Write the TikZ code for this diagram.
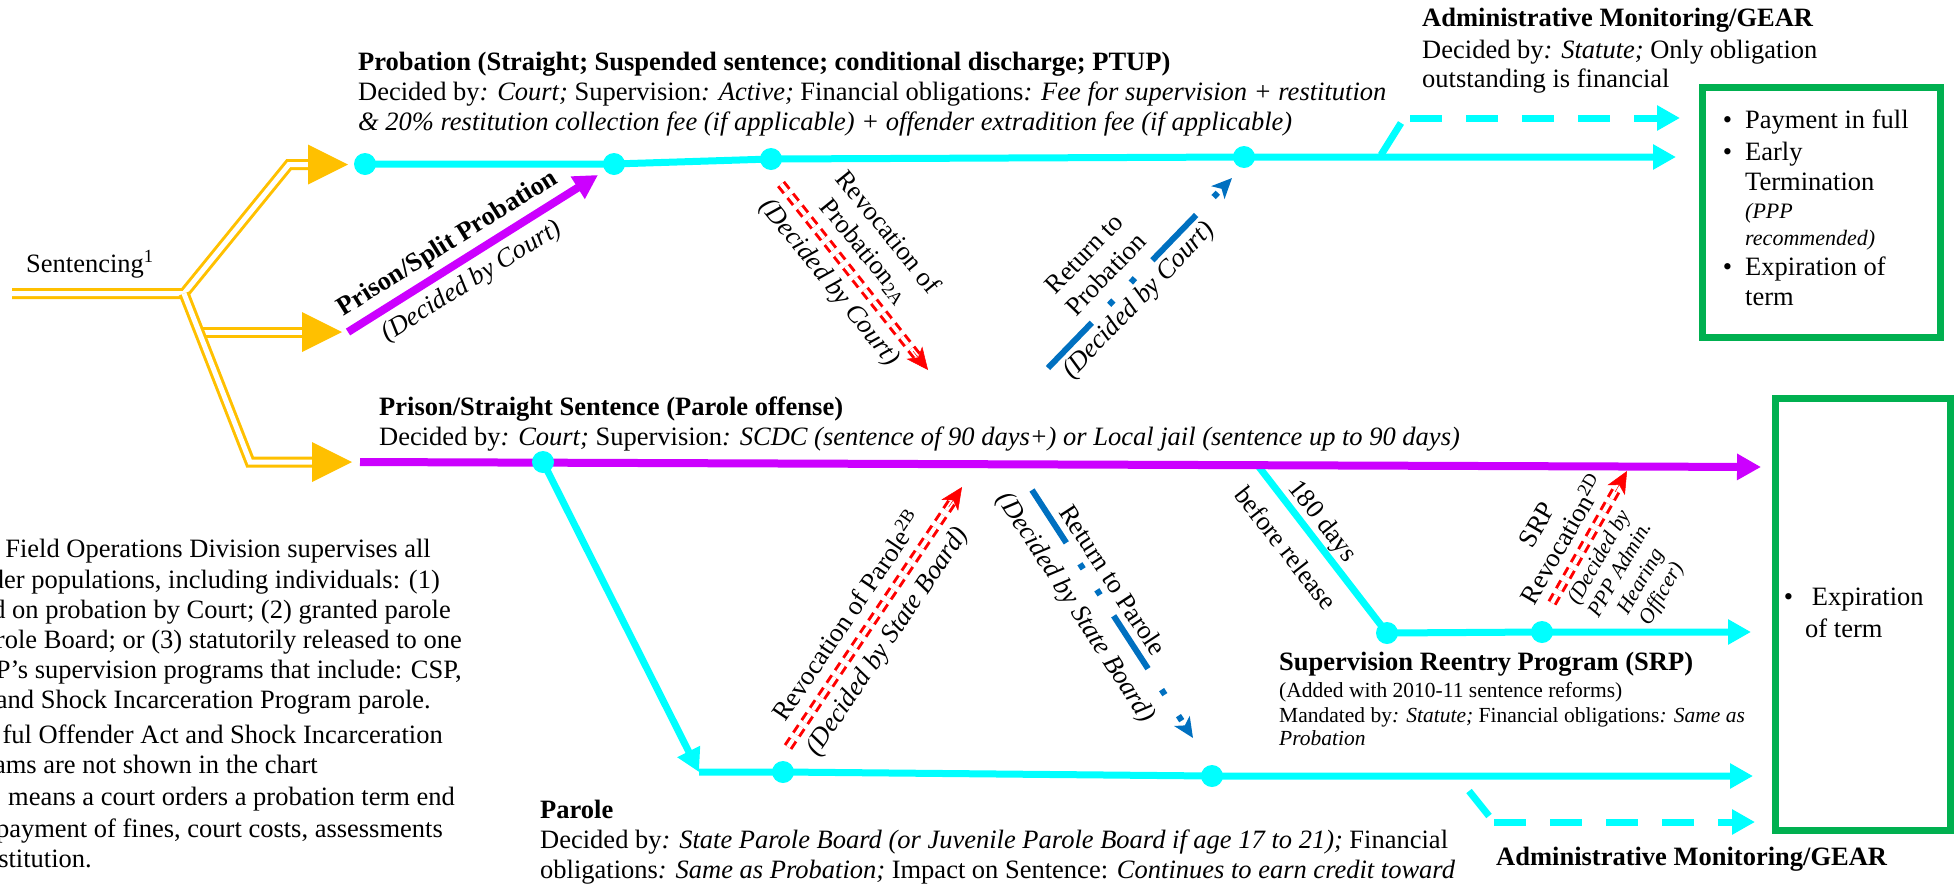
\documentclass[tikz,border=0pt]{standalone}
\usepackage{fontspec}
\setmainfont{Liberation Serif}
\usetikzlibrary{arrows.meta,calc}
\definecolor{cyanc}{HTML}{00FFFF}
\definecolor{purc}{HTML}{CC00FF}
\definecolor{yelc}{HTML}{FFC000}
\definecolor{bluc}{HTML}{0070C0}
\definecolor{redc}{HTML}{FF0000}
\definecolor{grnc}{HTML}{00B050}
\newcommand\mybul[1][13pt]{\llap{\textbullet\hspace{#1}}}
\begin{document}
\begin{tikzpicture}[x=1pt,y=-1pt,
  mtxt/.style={font=\fontsize{26.5}{30}\selectfont, inner sep=0pt},
  stxt/.style={font=\fontsize{21.5}{24}\selectfont, inner sep=0pt},
  itxt/.style={font=\fontsize{22}{27}\selectfont\itshape, inner sep=0pt},
  bw/.style={anchor=base west},
  be/.style={anchor=base east},
  cyln/.style={draw=cyanc, line width=7pt},
  cyarr/.style={cyln, -{Triangle[length=23pt,width=24pt]}},
  cydsh/.style={cyarr, dash pattern=on 32pt off 24pt},
  cydot/.style={circle, fill=cyanc, minimum size=22pt, inner sep=0pt},
  puarr/.style={draw=purc, line width=8pt, -{Triangle[length=24pt,width=25pt]}},
  ydbl/.style={draw=yelc, line width=3pt, double=white, double distance=5pt},
  rdbl/.style={draw=redc, line width=3pt, double=white, double distance=4pt, dash pattern=on 9pt off 6pt},
  rtip/.style={draw=redc, line width=0.5pt, -{Stealth[length=22pt,width=20pt,inset=6pt]}},
  bdsh/.style={draw=bluc, line width=6pt, dash pattern=on 63pt off 25pt on 6pt off 25pt on 6pt off 25pt, -{Stealth[length=20pt,width=18pt,inset=5pt]}},
  gbox/.style={draw=grnc, line width=7pt, inner sep=0pt, anchor=north west}
]
\useasboundingbox (0,0) rectangle (1954,884);
\clip (0,0) rectangle (1954,884);

% ---------- yellow sentencing branches ----------
\coordinate (ys) at (12,293.5);
\coordinate (yb) at (184,293.5);
\coordinate (yu1) at (289,164.5); \coordinate (yu2) at (312,164.5);
\coordinate (ym1) at (199,332);   \coordinate (ym2) at (306,332);
\coordinate (yl1) at (250,462);   \coordinate (yl2) at (316,462);
\draw[ydbl] (ym1) -- (ym2);
\draw[ydbl] (ys) -- (yb) -- (yu1) -- (yu2);
\draw[ydbl] (yb) -- (yl1) -- (yl2);
\fill[yelc] (308,144.5) -- (348,164.5) -- (308,184.5) -- cycle;
\fill[yelc] (302,312) -- (342,332) -- (302,352) -- cycle;
\fill[yelc] (312,442) -- (352,462) -- (312,482) -- cycle;
\node[mtxt,bw] (sent) at (26,272) {Sentencing\textsuperscript{1}};

% ---------- probation line ----------
\coordinate (p1) at (365,164); \coordinate (p2) at (614,164);
\coordinate (p3) at (771,159); \coordinate (p4) at (1244,157);
\coordinate (pe) at (1676,157);
\draw[cyarr] (p1) -- (p2) -- (p3) -- (p4) -- (pe);
\coordinate (g1) at (1381,155); \coordinate (g2) at (1401,123);
\coordinate (g3) at (1410,118); \coordinate (g4) at (1680,118);
\draw[cyln] (g1) -- (g2);
\draw[cydsh] (g3) -- (g4);

% ---------- SRP line ----------
\coordinate (s1) at (1259,467); \coordinate (s2) at (1387,633);
\coordinate (s3) at (1542,632); \coordinate (se) at (1751,632);
\draw[cyarr] (s1) -- (s2) -- (s3) -- (se);

% ---------- prison line ----------
\coordinate (r1) at (360,462); \coordinate (r2) at (543,462);
\coordinate (re) at (1761,467);
\draw[puarr] (r1) -- (re);

% ---------- parole ----------
\coordinate (a1) at (699,772); \coordinate (a2) at (783,772);
\coordinate (a3) at (1212,776); \coordinate (ae) at (1753,776);
\draw[cyarr] (r2) -- (a1);
\draw[cyarr] (a1) -- (a2) -- (a3) -- (ae);
\coordinate (h1) at (1469,791); \coordinate (h2) at (1489,816);
\coordinate (h3) at (1494,822); \coordinate (h4) at (1755,822);
\draw[cyln] (h1) -- (h2);
\draw[cydsh] (h3) -- (h4);

% ---------- dots ----------
\node[cydot] (dp1) at (p1) {};
\node[cydot] (dp2) at (p2) {};
\node[cydot] (dp3) at (p3) {};
\node[cydot] (dp4) at (p4) {};
\node[cydot] (dr2) at (r2) {};
\node[cydot] (da2) at (a2) {};
\node[cydot] (da3) at (a3) {};
\node[cydot] (ds2) at (s2) {};
\node[cydot] (ds3) at (s3) {};

% ---------- purple split probation ----------
\coordinate (q1) at (348,332); \coordinate (q2) at (598,175);
\draw[puarr] (q1) -- (q2);

% ---------- red revocations ----------
\coordinate (v1a) at (781,184);  \coordinate (v1b) at (928,370);
\coordinate (v2a) at (788,747);  \coordinate (v2b) at (962,487);
\coordinate (v3a) at (1552,603); \coordinate (v3b) at (1627,471);
\foreach \v in {v1,v2,v3}{
  \draw[rdbl] (\v a) -- ($(\v b)!18pt!(\v a)$);
  \draw[rtip] ($(\v b)!24pt!(\v a)$) -- (\v b);
}

% ---------- blue returns ----------
\coordinate (w1a) at (1048,368); \coordinate (w1b) at (1232,178);
\coordinate (w2a) at (1032,490); \coordinate (w2b) at (1193,738);
\draw[bdsh] (w1a) -- (w1b);
\draw[bdsh] (w2a) -- (w2b);

% ---------- green boxes ----------
\node[gbox, minimum width=238.5pt, minimum height=249.5pt] (box1) at (1698.5,84) {};
\node[gbox, minimum width=175pt, minimum height=432pt] (box2) at (1772,395) {};

% ---------- texts ----------
\node[mtxt,bw] (probT) at (358,70) {\textbf{Probation (Straight; Suspended sentence; conditional discharge; PTUP)}};
\node[mtxt,bw] (probL1) at (358,100) {Decided by\textit{: Court;} Supervision\textit{: Active;} Financial obligations\textit{: Fee for supervision + restitution}};
\node[mtxt,bw] (probL2) at (358,130) {\textit{\& 20\% restitution collection fee (if applicable) + offender extradition fee (if applicable)}};

\node[mtxt,bw] (admT) at (1422,26) {\textbf{Administrative Monitoring/GEAR}};
\node[mtxt,bw] (admL1) at (1422,58) {Decided by\textit{: Statute;} Only obligation};
\node[mtxt,bw] (admL2) at (1422,87) {outstanding is financial};

\node[mtxt,bw] (b1) at (1745,128) {\mybul Payment in full};
\node[mtxt,bw] (b2) at (1745,160) {\mybul Early};
\node[mtxt,bw] (b3) at (1745,190) {Termination};
\node[itxt,bw] (b4) at (1745,218) {(PPP};
\node[itxt,bw] (b5) at (1745,245) {recommended)};
\node[mtxt,bw] (b6) at (1745,275) {\mybul Expiration of};
\node[mtxt,bw] (b7) at (1745,305) {term};

\node[mtxt,bw] (e1) at (1805,605) {\mybul[12pt] Expiration};
\node[mtxt,bw] (e2) at (1805,637) {of term};

\node[mtxt,bw] (prT) at (379,415) {\textbf{Prison/Straight Sentence (Parole offense)}};
\node[mtxt,bw] (prL1) at (379,445) {Decided by\textit{: Court;} Supervision\textit{: SCDC (sentence of 90 days+) or Local jail (sentence up to 90 days)}};

\node[mtxt,bw] (paT) at (540,818) {\textbf{Parole}};
\node[mtxt,bw] (paL1) at (540,848) {Decided by\textit{: State Parole Board (or Juvenile Parole Board if age 17 to 21);} Financial};
\node[mtxt,bw] (paL2) at (540,878) {obligations\textit{: Same as Probation;} Impact on Sentence: \textit{Continues to earn credit toward}};

\node[mtxt,bw] (srT) at (1279,670) {\textbf{Supervision Reentry Program (SRP)}};
\node[stxt,bw] (srL1) at (1279,697) {(Added with 2010-11 sentence reforms)};
\node[stxt,bw] (srL2) at (1279,722) {Mandated by\textit{: Statute;} Financial obligations\textit{: Same as}};
\node[stxt,bw] (srL3) at (1279,745) {\textit{Probation}};

\node[mtxt,bw] (admB) at (1496,865) {\textbf{Administrative Monitoring/GEAR}};

\node[mtxt,be] (f1) at (431,557) {Field Operations Division supervises all};
\node[mtxt,be] (f2) at (440,588) {der populations, including individuals: (1)};
\node[mtxt,be] (f3) at (451,618) {d on probation by Court; (2) granted parole};
\node[mtxt,be] (f4) at (462,648) {role Board; or (3) statutorily released to one};
\node[mtxt,be] (f5) at (462,678) {P’s supervision programs that include: CSP,};
\node[mtxt,be] (f6) at (431,708) {and Shock Incarceration Program parole.};
\node[mtxt,be] (f7) at (443,743) {ful Offender Act and Shock Incarceration};
\node[mtxt,be] (f8) at (318,773) {ams are not shown in the chart};
\node[mtxt,be] (f9) at (455,805) {means a court orders a probation term end};
\node[mtxt,be] (f10) at (443,837) {payment of fines, court costs, assessments};
\node[mtxt,be] (f11) at (92,867) {stitution.};

% ---------- rotated labels ----------
\node[mtxt, rotate=32] (lbSplit) at (448,244) {\textbf{Prison/Split Probation}};
\node[mtxt, rotate=32] (lbSplitD) at (472,282) {\textit{(Decided by Court)}};
\node[mtxt, rotate=-51, align=center] (lbRevP) at (876,242) {Revocation of\\Probation\textsubscript{2A}};
\node[mtxt, rotate=-51] (lbRevPD) at (829,283) {\textit{(Decided by Court)}};
\node[mtxt, rotate=46, align=center] (lbRetP) at (1095,264) {Return to\\Probation};
\node[mtxt, rotate=46] (lbRetPD) at (1139,301) {\textit{(Decided by Court)}};
\node[mtxt, rotate=56] (lbRevPa) at (846,615) {Revocation of Parole\textsuperscript{2B}};
\node[mtxt, rotate=56] (lbRevPaD) at (888,642) {\textit{(Decided by State Board)}};
\node[mtxt, rotate=-57] (lbRetPa) at (1113,580) {Return to Parole};
\node[mtxt, rotate=-57] (lbRetPaD) at (1075,608) {\textit{(Decided by State Board)}};
\node[mtxt, rotate=-52] (lb180a) at (1322,522) {180 days};
\node[mtxt, rotate=-52] (lb180b) at (1286,548) {before release};
\node[mtxt, rotate=60, align=center] (lbSRP) at (1550,532) {SRP\\Revocation\textsuperscript{2D}};
\node[stxt, rotate=60, align=center] (lbSRPD) at (1631,576) {\textit{(Decided by}\\\textit{PPP Admin.}\\\textit{Hearing}\\\textit{Officer)}};
\end{tikzpicture}
\end{document}
